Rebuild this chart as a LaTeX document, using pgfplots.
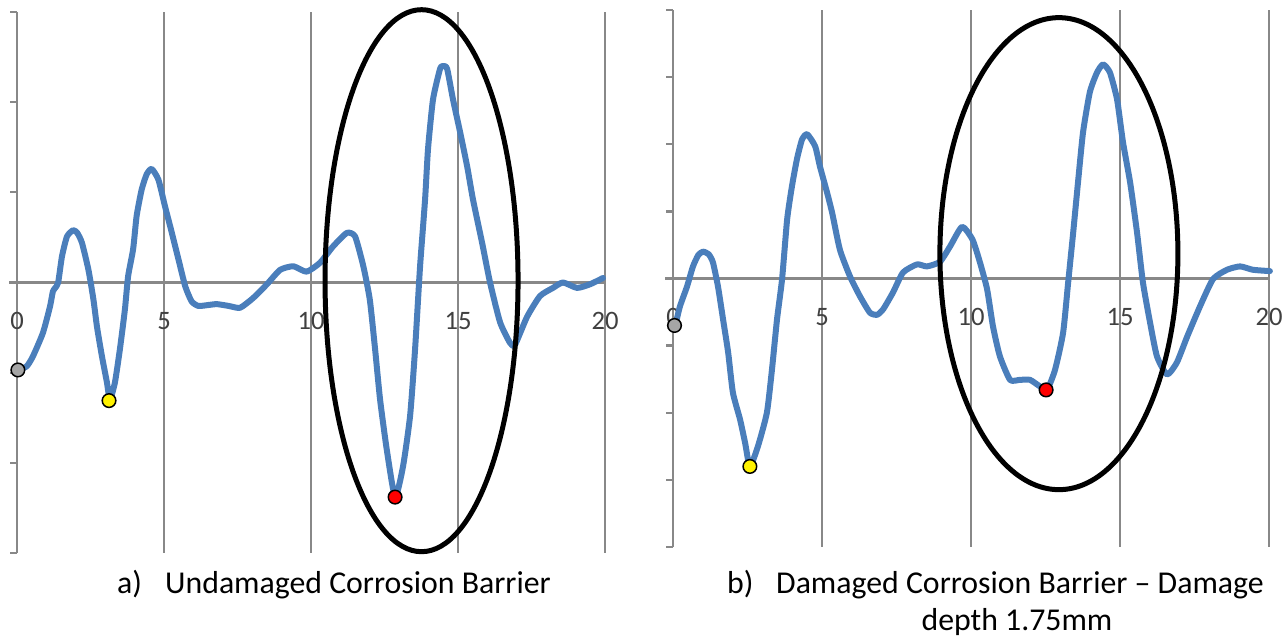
\documentclass[border=0pt]{standalone}
\usepackage{fontspec}
\setmainfont{Carlito}
\usepackage{pgfplots}
\pgfplotsset{compat=1.18}
\definecolor{curve}{HTML}{4A7EBB}
\definecolor{gridc}{HTML}{888888}
\definecolor{mgray}{HTML}{A5A5A5}
\definecolor{tickc}{HTML}{404040}
\newcommand{\tickfont}{\fontsize{26.6}{30}\selectfont}
\newcommand{\capfont}{\fontsize{31.8}{37}\selectfont}
\tikzset{gl/.style={gridc, line width=2.3pt}}
\pgfplotsset{
  panel/.style={anchor=south west, scale only axis, xmin=0, xmax=20, axis lines=none, clip=false},
  trace/.style={curve, line width=6pt, line join=round, line cap=round, no markers, smooth, tension=0.35},
  dot/.style={only marks, mark=*, mark size=6.8pt, mark options={fill=#1, draw=black, line width=1.5pt}},
}
\begin{document}
\begin{tikzpicture}
\useasboundingbox (0pt,0pt) rectangle (1288pt,639pt);
% ---------------- left panel
\begin{axis}[panel, at={(17pt,86pt)}, width=588pt, height=541pt, ymin=-3, ymax=3]
\pgfplotsinvokeforeach{5,10,15,20}{\draw[gl] (axis cs:#1,-3) -- (axis cs:#1,3);}
\draw[gl] ([xshift=-8pt]axis cs:0,0) -- (axis cs:20,0);
\draw[gl] (axis cs:0,-3) -- (axis cs:0,3);
\pgfplotsinvokeforeach{-3,-2,-1,0,1,2,3}{\draw[gl] (axis cs:0,#1) -- ++(-7pt,0pt);}
\pgfplotsinvokeforeach{0,5,10,15,20}{\node[font=\tickfont, text=tickc, inner sep=0pt] at ([yshift=-38.5pt]axis cs:#1,0) {#1};}
\addplot[trace] coordinates {
(0.05,-0.97) (0.33,-0.93) (0.54,-0.82) (0.88,-0.56) (1.12,-0.27) (1.22,-0.10) (1.30,-0.06)
(1.40,0.00) (1.53,0.29) (1.70,0.51) (1.91,0.58) (2.05,0.55) (2.21,0.44) (2.43,0.14)
(2.60,-0.19) (2.72,-0.49) (2.89,-0.82) (3.06,-1.11) (3.16,-1.30) (3.33,-1.11) (3.50,-0.74)
(3.67,-0.30) (3.78,0.07) (3.95,0.37) (4.07,0.74) (4.24,1.03) (4.41,1.20) (4.58,1.26)
(4.81,1.14) (5.03,0.85) (5.26,0.56) (5.49,0.26) (5.72,-0.04) (5.94,-0.21) (6.17,-0.26)
(6.50,-0.25) (6.80,-0.24) (7.20,-0.26) (7.59,-0.28) (8.04,-0.17) (8.50,-0.02) (8.95,0.14)
(9.40,0.18) (9.85,0.12) (10.31,0.22) (10.75,0.40) (11.22,0.55) (11.50,0.51) (11.78,0.18)
(12.00,-0.19) (12.18,-0.74) (12.35,-1.30) (12.58,-1.86) (12.86,-2.38) (13.13,-2.04)
(13.37,-1.48) (13.54,-0.74) (13.71,0.18) (13.88,0.92) (13.98,1.48) (14.15,2.03) (14.39,2.37)
(14.50,2.40) (14.63,2.37) (14.83,2.03) (15.07,1.67) (15.31,1.29) (15.51,0.92) (15.82,0.44)
(16.09,0.00) (16.43,-0.44) (16.77,-0.67) (16.94,-0.69) (17.35,-0.38) (17.79,-0.15)
(18.23,-0.06) (18.57,0.00) (19.05,-0.06) (19.49,-0.02) (19.93,0.05)
};
\draw[black, line width=5pt] (axis cs:13.76,0.02) ellipse [x radius=96.5pt, y radius=271pt];
\addplot[dot=mgray] coordinates {(0.03,-0.97)};
\addplot[dot=yellow] coordinates {(3.13,-1.31)};
\addplot[dot=red] coordinates {(12.86,-2.38)};
\end{axis}
% ---------------- right panel
\begin{axis}[panel, at={(673pt,92pt)}, width=596pt, height=537pt, ymin=-4, ymax=4]
\pgfplotsinvokeforeach{5,10,15,20}{\draw[gl] (axis cs:#1,-4) -- (axis cs:#1,4);}
\draw[gl] ([xshift=-8pt]axis cs:0,0) -- (axis cs:20,0);
\draw[gl] (axis cs:0,-4) -- (axis cs:0,4);
\pgfplotsinvokeforeach{-4,-3,-2,-1,0,1,2,3,4}{\draw[gl] (axis cs:0,#1) -- ++(-7pt,0pt);}
\pgfplotsinvokeforeach{0,5,10,15,20}{\node[font=\tickfont, text=tickc, inner sep=0pt] at ([yshift=-38.5pt]axis cs:#1,0) {#1};}
\addplot[trace] coordinates {
(0.07,-0.72) (0.23,-0.42) (0.47,-0.12) (0.67,0.18) (0.85,0.35) (1.01,0.40) (1.20,0.36)
(1.34,0.24) (1.51,-0.12) (1.68,-0.61) (1.85,-1.10) (2.01,-1.70) (2.25,-2.10) (2.42,-2.45)
(2.58,-2.80) (2.85,-2.50) (3.15,-2.00) (3.32,-1.36) (3.49,-0.61) (3.66,-0.01) (3.83,0.88)
(3.99,1.37) (4.16,1.78) (4.33,2.07) (4.50,2.15) (4.77,1.97) (4.93,1.67) (5.17,1.28)
(5.34,0.98) (5.60,0.43) (5.94,0.03) (6.28,-0.27) (6.61,-0.51) (6.85,-0.54) (7.05,-0.46)
(7.38,-0.21) (7.72,0.09) (8.19,0.21) (8.52,0.18) (8.96,0.25) (9.30,0.48) (9.70,0.77)
(10.05,0.58) (10.30,0.24) (10.54,-0.16) (10.74,-0.72) (10.97,-1.16) (11.31,-1.51)
(11.64,-1.51) (11.98,-1.51) (12.32,-1.61) (12.55,-1.66) (12.82,-1.36) (13.09,-0.81)
(13.26,-0.06) (13.43,0.69) (13.59,1.43) (13.76,2.18) (13.99,2.78) (14.23,3.07) (14.43,3.19)
(14.66,3.07) (14.90,2.67) (15.10,2.03) (15.34,1.43) (15.57,0.69) (15.77,-0.06) (16.01,-0.66)
(16.24,-1.16) (16.58,-1.43) (16.91,-1.25) (17.25,-0.87) (17.68,-0.42) (18.12,-0.01)
(18.59,0.13) (19.03,0.18) (19.46,0.13) (20.03,0.11)
};
\draw[black, line width=5pt] (axis cs:12.95,0.37) ellipse [x radius=119pt, y radius=236pt];
\addplot[dot=mgray] coordinates {(0.05,-0.70)};
\addplot[dot=yellow] coordinates {(2.58,-2.80)};
\addplot[dot=red] coordinates {(12.52,-1.66)};
\end{axis}
% ---------------- captions
\node[anchor=base west, inner sep=0pt, font=\capfont] at (117pt,45pt) {a)};
\node[anchor=base west, inner sep=0pt, font=\capfont] at (165pt,45pt) {Undamaged Corrosion Barrier};
\node[anchor=base west, inner sep=0pt, font=\capfont] at (727pt,45pt) {b)};
\node[anchor=base west, inner sep=0pt, font=\capfont] at (776pt,45pt) {Damaged Corrosion Barrier – Damage};
\node[anchor=base, inner sep=0pt, font=\capfont] at (1017pt,8pt) {depth 1.75mm};
\end{tikzpicture}
\end{document}
